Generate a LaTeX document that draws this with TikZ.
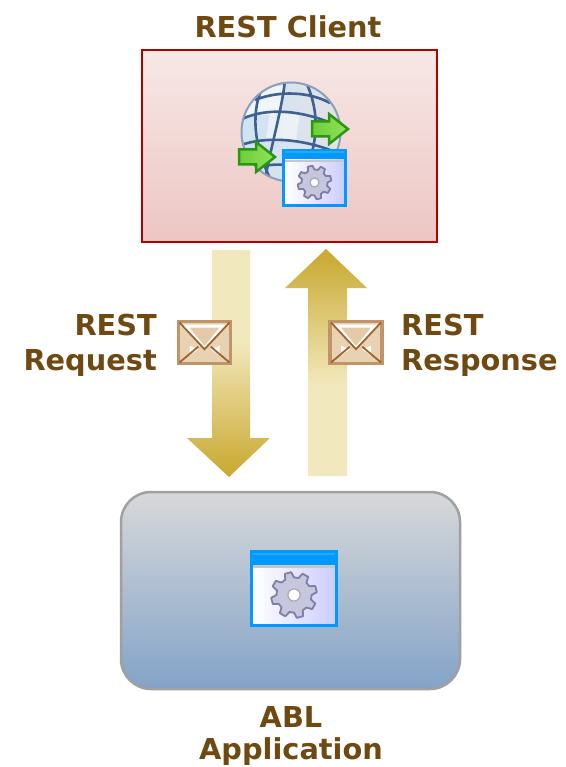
\documentclass[tikz,border=0pt]{standalone}
\usepackage{fontspec}
\setmainfont{DejaVu Sans}
\definecolor{labelbrown}{HTML}{6E4A12}
\definecolor{paleg}{HTML}{F2E8BD}
\definecolor{deepg}{HTML}{C8A82E}
\definecolor{winblue}{HTML}{0099FF}
\definecolor{gearfill}{HTML}{C6C6DC}
\definecolor{gearedge}{HTML}{7E7EA8}
\definecolor{gridblue}{HTML}{3F618F}
\definecolor{arrowgreen}{HTML}{7EDC40}
\definecolor{arrowedge}{HTML}{2A9614}
\definecolor{envedge}{HTML}{BE9468}
\definecolor{envdark}{HTML}{9A6432}
\definecolor{envfill}{HTML}{E8D2B2}
\pgfdeclareverticalshading{downshade}{100bp}{color(0bp)=(deepg); color(25bp)=(deepg); color(55bp)=(paleg); color(100bp)=(paleg)}
\tikzset{
  label text/.style={font=\bfseries\fontsize{28.8}{32}\selectfont, text=labelbrown, inner sep=0pt},
  client box/.style={draw={rgb,255:red,176;green,0;blue,0}, line width=2pt, top color={rgb,255:red,247;green,232;blue,230}, bottom color={rgb,255:red,236;green,198;blue,195}},
  app box/.style={draw={rgb,255:red,160;green,160;blue,160}, line width=2.5pt, rounded corners=30pt, top color={rgb,255:red,216;green,216;blue,216}, bottom color={rgb,255:red,131;green,163;blue,200}},
  flow down/.style={shading=downshade, shading angle=0},
  flow up/.style={shading=downshade, shading angle=180},
}
% window icon: #1 = left, #2 = top, #3 = width, #4 = height, #5 = title height
\newcommand{\wicon}[5]{%
  \begin{scope}[shift={(#1,#2)}]
    \fill[winblue] (0,0) rectangle (#3,#4);
    \fill[left color=white, right color={rgb,255:red,205;green,205;blue,255}] (3.2,#5) rectangle ({#3-3.2},{#4-3.2});
    \fill[gray!45] (3.2,#5) rectangle ({#3-3.2},{#5+2.5});
    \fill[white, opacity=.15] (3,2.5) rectangle ({#3-3},4.5);
    \begin{scope}[shift={({#3/2},{(#4+#5)/2-1})}, scale={#3/65}]
      \draw[gearedge, fill=gearfill, line width=1.8pt, line join=round]
        (0:13) -- (15:13) -- (22:17) -- (38:17) -- (45:13) -- (60:13) -- (67:17) -- (83:17)
        -- (90:13) -- (105:13) -- (112:17) -- (128:17) -- (135:13) -- (150:13) -- (157:17) -- (173:17)
        -- (180:13) -- (195:13) -- (202:17) -- (218:17) -- (225:13) -- (240:13) -- (247:17) -- (263:17)
        -- (270:13) -- (285:13) -- (292:17) -- (308:17) -- (315:13) -- (330:13) -- (337:17) -- (353:17) -- cycle;
      \draw[gearedge!70, fill=white, line width=1.2pt] (0,0) circle (4.5);
    \end{scope}
  \end{scope}}
% envelope icon
\newcommand{\envicon}[4]{%
  \begin{scope}[shift={(#1,#2)}]
    \draw[envedge, line width=3.5pt, fill=envfill] (0,0) rectangle (#3,#4);
    \fill[white] (3,3) -- ({#3-3},3) -- ({#3/2},{#4*.62}) -- cycle;
    \fill[envfill!90!brown] (11,6) -- ({#3-11},6) -- ({#3/2},{#4*.58}) -- cycle;
    \fill[white] (11,{#4*.58}) -- ({#3/2-6},{#4*.66}) -- (11,{#4-8}) -- cycle;
    \fill[white] ({#3-11},{#4*.58}) -- ({#3/2+6},{#4*.66}) -- ({#3-11},{#4-8}) -- cycle;
    \draw[envdark, line width=1.8pt]
      (1,1) -- ({#3/2},{#4*.66}) -- ({#3-1},1)
      (1,{#4-1}) -- ({#3*.38},{#4*.6})
      ({#3-1},{#4-1}) -- ({#3*.62},{#4*.6});
  \end{scope}}
% green arrow icon
\newcommand{\garrow}[2]{%
  \begin{scope}[shift={(#1,#2)}]
    \draw[arrowedge, line width=2.5pt, line join=miter, left color=arrowgreen!80!arrowedge, right color=arrowgreen!85!white]
      (0,-7.5) -- (17,-7.5) -- (17,-15) -- (36,0) -- (17,15) -- (17,7.5) -- (0,7.5) -- cycle;
  \end{scope}}
\begin{document}
\begin{tikzpicture}[x=1pt,y=-1pt]
\useasboundingbox (0,0) rectangle (565,767);
\fill[white] (0,0) rectangle (565,767);

\node[label text, anchor=base] (clientlabel) at (288,38) {REST Client};
\path[client box] (142,50) rectangle (437,242);

% globe
\coordinate (gc) at (291,132);
\begin{scope}
  \clip (gc) circle (50);
  \fill[left color={rgb,255:red,205;green,228;blue,242}, right color={rgb,255:red,228;green,226;blue,232}] (241,82) rectangle (341,182);
  \fill[white, opacity=.65] (250,90) -- (285,85) -- (282,115) -- (246,115) -- cycle;
  \fill[white, opacity=.5] (270,112) -- (300,112) -- (296,140) -- (266,140) -- cycle;
  \draw[gridblue, line width=2.6pt]
    (305,80) .. controls (322,115) and (318,150) .. (298,185)
    (262,88) .. controls (250,115) and (255,150) .. (272,182)
    (285,80) .. controls (282,110) and (270,150) .. (265,180)
    (240,120) .. controls (270,105) and (310,112) .. (342,128)
    (241,145) .. controls (270,135) and (310,140) .. (342,155)
    (250,170) .. controls (275,160) and (300,165) .. (330,175)
    (255,100) .. controls (280,90) and (310,92) .. (330,103);
\end{scope}
\draw[gridblue!60, line width=2pt] (gc) circle (49.5);
\garrow{312}{129}
\garrow{239}{157}
\wicon{282}{149}{65}{58}{11}

% flow arrows
\path[flow down] (212,250) -- (250,250) -- (250,438) -- (270,438) -- (229,477) -- (187,438) -- (212,438) -- cycle;
\path[flow up] (308,476) -- (347,476) -- (347,288) -- (367,288) -- (326,249) -- (285,288) -- (308,288) -- cycle;
\envicon{178.5}{321.5}{52}{42}
\envicon{330}{321.5}{52}{42}

\node[label text, anchor=base east] (reqa) at (157,335) {REST};
\node[label text, anchor=base east] (reqb) at (157,370) {Request};
\node[label text, anchor=base west] (resa) at (401,335) {REST};
\node[label text, anchor=base west] (resb) at (401,370) {Response};

\path[app box] (121,492) rectangle (460,689);
\wicon{250}{550}{88}{77}{15}
\node[label text, anchor=base] (abla) at (291,727) {ABL};
\node[label text, anchor=base] (ablb) at (291,759.5) {Application};
\end{tikzpicture}
\end{document}
